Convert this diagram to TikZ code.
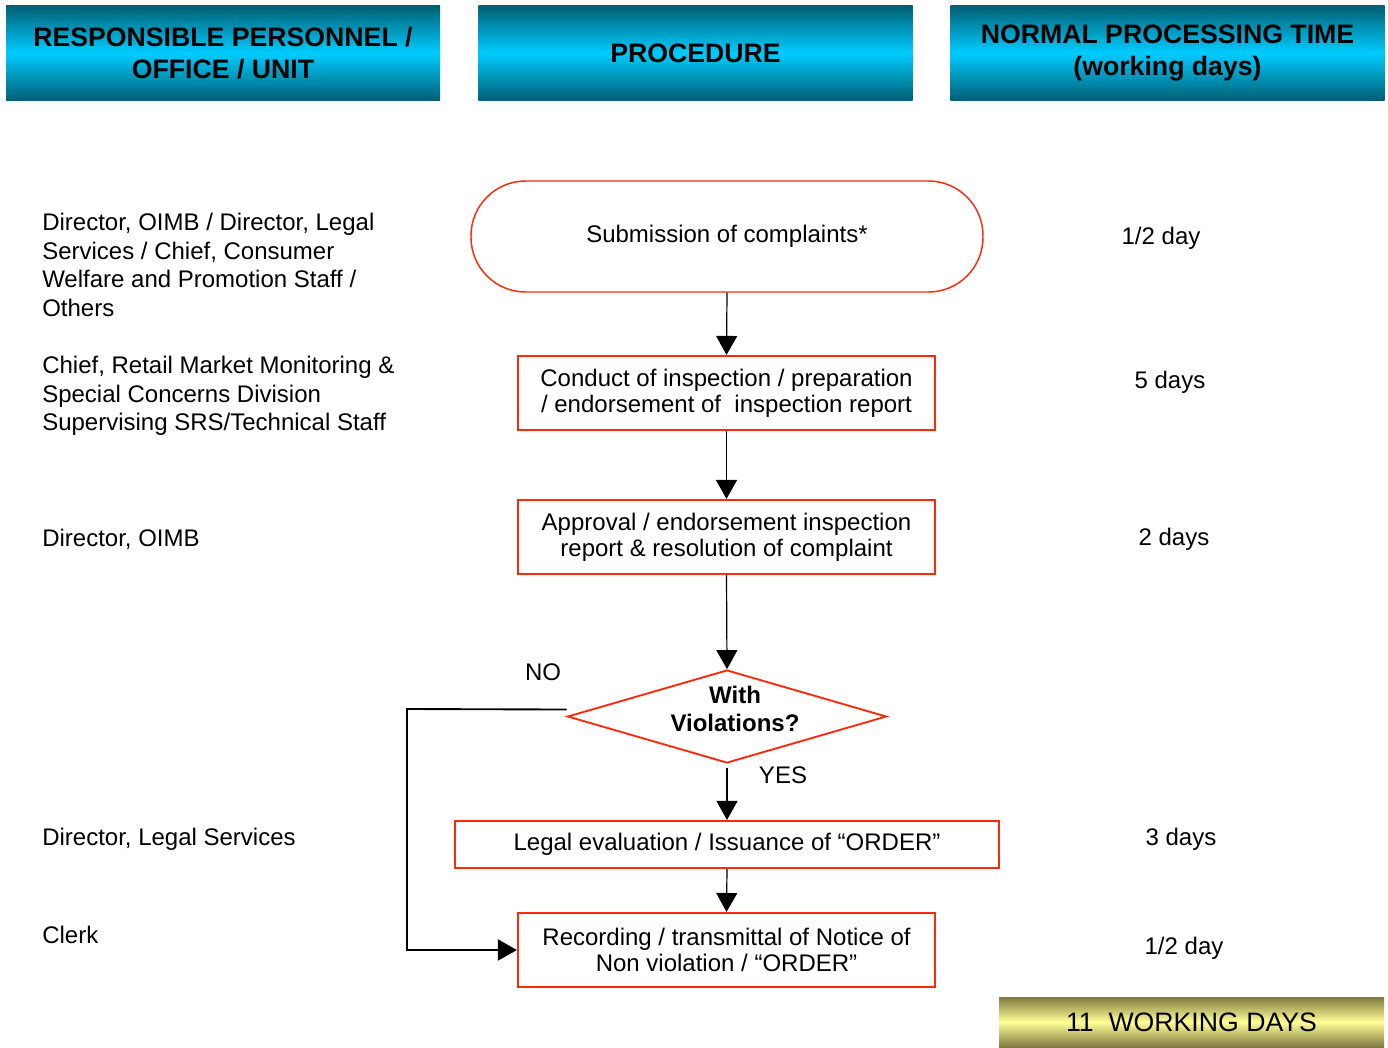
\documentclass[tikz,border=0pt]{standalone}
\usepackage{xcolor}
\usepackage{fontspec}
\setmainfont{Liberation Sans}
\usepackage{tikz}
\usetikzlibrary{shapes.geometric,arrows.meta,positioning}

\definecolor{flowred}{RGB}{255,40,10}
\definecolor{tealdark}{RGB}{0,95,115}
\definecolor{cyanlight}{RGB}{0,204,255}
\definecolor{olivedark}{RGB}{128,122,64}
\definecolor{paleyellow}{RGB}{255,255,150}

\tikzset{
  header/.style={top color=tealdark, bottom color=tealdark, middle color=cyanlight,
    minimum width=325.5pt, minimum height=71.25pt, inner sep=0pt, align=center,
    font=\fontsize{20}{24}\selectfont\bfseries},
  total/.style={top color=olivedark, bottom color=olivedark, middle color=paleyellow,
    minimum width=288.75pt, minimum height=37.5pt, inner sep=0pt,
    font=\fontsize{20}{24}\selectfont},
  terminal/.style={draw=flowred, line width=1.1pt, rounded corners=41pt,
    minimum width=384pt, minimum height=83.25pt, font=\fontsize{18}{19.5}\selectfont},
  process/.style={draw=flowred, line width=1.6pt, align=center, inner sep=0pt,
    minimum width=312.75pt, minimum height=55.5pt, font=\fontsize{18}{19.5}\selectfont},
  decision/.style={diamond, draw=flowred, line width=1.4pt, aspect=3.43, inner sep=0pt,
    align=center, minimum width=239.25pt, minimum height=69.75pt,
    font=\fontsize{18}{21}\selectfont\bfseries},
  role/.style={anchor=west, align=left, inner sep=0pt, font=\fontsize{18}{21.5}\selectfont},
  days/.style={inner sep=0pt, font=\fontsize{18}{21.5}\selectfont},
  plain/.style={inner sep=0pt, font=\fontsize{18}{21.5}\selectfont},
  flow/.style={-{Triangle[length=14.25pt,width=15.75pt]}, line width=0.9pt},
}

\begin{document}
\begin{tikzpicture}[x=0.75pt,y=-0.75pt]
\useasboundingbox (0,0) rectangle (1388,1047);

% Column headers
\node[header] (hdrunit) at (223,53) {RESPONSIBLE PERSONNEL /\\OFFICE / UNIT};
\node[header] (hdrproc) at (695.5,53) {PROCEDURE};
\node[header] (hdrtime) at (1167.5,53) {NORMAL PROCESSING TIME\\(working days)};

% Responsible personnel
\node[role] (role1) at (42,265) {Director, OIMB / Director, Legal\\Services / Chief, Consumer\\Welfare and Promotion Staff /\\Others};
\node[role] (role2) at (42,396) {Chief, Retail Market Monitoring \&\\Special Concerns Division\\Supervising SRS/Technical Staff};
\node[role] (role3) at (42,539) {Director, OIMB};
\node[role] (role4) at (42,839) {Director, Legal Services};
\node[role] (role5) at (42,935) {Clerk};

% Procedure
\node[terminal] (submit) at (727,236.5) {Submission of complaints*};
\node[process] (inspect) at (726.5,393) {Conduct of inspection / preparation\\/ endorsement of\ \ inspection report};
\node[process] (approve) at (726.5,537) {Approval / endorsement inspection\\report \& resolution of complaint};
\node[decision] (violate) at (727,716.5) {\hspace*{12pt}\raisebox{-0.5pt}[0pt][0pt]{\begin{tabular}{@{}c@{}}With\\Violations?\end{tabular}}};
\node[process, minimum width=408pt, minimum height=35.25pt] (legal) at (727,844.5) {Legal evaluation / Issuance of “ORDER”};
\node[process] (record) at (726.5,950) {Recording / transmittal of Notice of\\Non violation / “ORDER”};

\node[plain] (nolabel) at (543,672) {NO};
\node[plain] (yeslabel) at (783,775) {YES};

\draw[flow] (submit.south) -- (inspect.north);
\draw[flow] (inspect.south) -- (approve.north);
\draw[flow] (approve.south) -- (violate.north);
\draw[flow] ([yshift=-3pt]violate.south) -- (legal.north);
\draw[flow] (legal.south) -- (record.north);

% NO branch
\coordinate (nobend) at (407,709);
\draw[flow, line width=1.4pt] ([yshift=5.25pt]violate.west) -- (nobend) |- (record.west);

% Processing time
\node[days] (time1) at (1161,238) {1/2 day};
\node[days] (time2) at (1170,382) {5 days};
\node[days] (time3) at (1174,539) {2 days};
\node[days] (time4) at (1181,839) {3 days};
\node[days] (time5) at (1184,948) {1/2 day};

\node[total] (total) at (1191.5,1022) {11\ \ WORKING DAYS};
\end{tikzpicture}
\end{document}
